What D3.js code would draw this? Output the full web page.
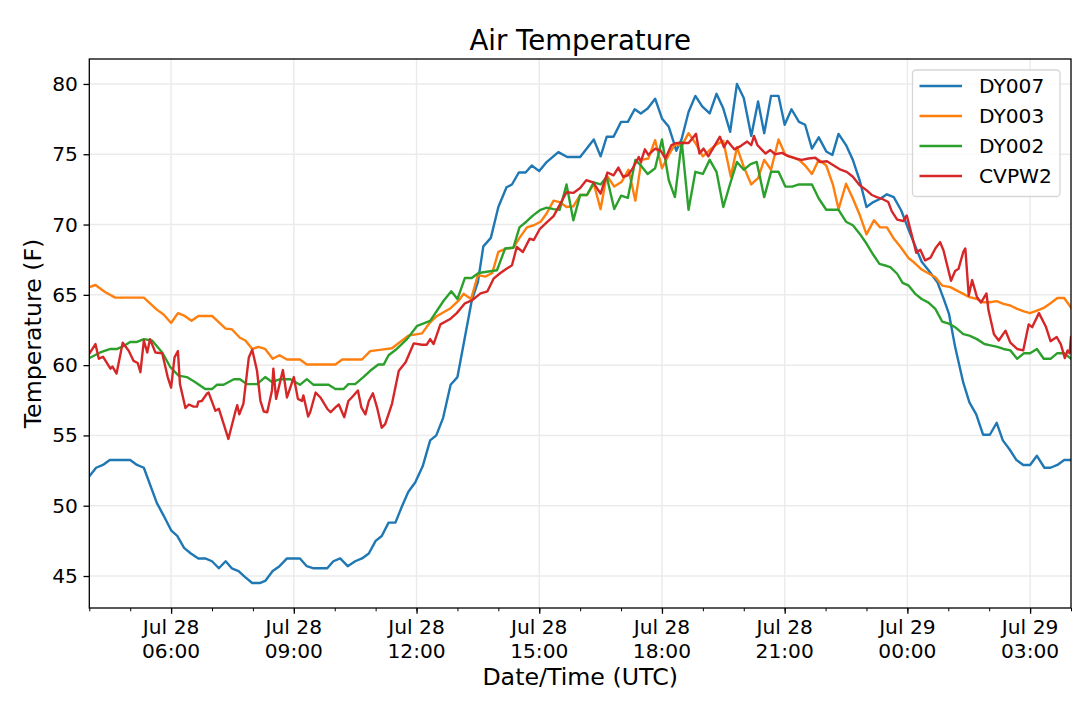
<!DOCTYPE html>
<html>
<head>
<meta charset="utf-8">
<script src="https://cdn.jsdelivr.net/npm/d3@7"></script>
<style>
  html, body { margin: 0; background: #fff; }
  svg { display: block; font-family: "DejaVu Sans", sans-serif; }
</style>
</head>
<body>
<div id="chart"></div>
<script>
// ── Data: [minutes since Jul 28 04:00 UTC, temperature °F] ─────────────────
const dy007 = [[0,52.1],[10,52.7],[20,52.9],[30,53.25],[60,53.25],[70,52.9],[80,52.7],[99,50.2],[109,49.3],[120,48.25],[129,47.85],[139,47.0],[149,46.6],[160,46.25],[170,46.25],[180,46.05],[190,45.55],[200,46.05],[209,45.55],[219,45.35],[229,44.9],[239,44.5],[250,44.5],[258,44.65],[269,45.35],[279,45.7],[290,46.25],[309,46.25],[319,45.7],[329,45.55],[349,45.55],[358,46.05],[368,46.25],[379,45.7],[390,46.05],[400,46.25],[410,46.6],[420,47.5],[429,47.85],[439,48.8],[449,48.8],[459,50.0],[468,51.0],[478,51.65],[489,52.8],[500,54.65],[509,55.0],[519,56.25],[530,58.6],[540,59.15],[551,62.0],[561,64.6],[570,65.9],[578,68.45],[589,69.05],[600,71.25],[612,72.65],[620,72.85],[630,73.7],[640,73.7],[649,74.2],[660,73.8],[670,74.4],[688,75.15],[701,74.8],[720,74.8],[740,76.05],[750,74.85],[759,76.25],[769,76.25],[780,77.3],[790,77.3],[800,78.2],[809,77.9],[819,78.25],[830,78.95],[840,77.55],[850,76.95],[857,75.9],[861,75.25],[869,76.1],[879,78.0],[889,79.15],[899,78.4],[910,77.9],[920,79.3],[930,78.25],[940,76.6],[950,80.0],[960,79.0],[971,76.3],[981,78.75],[990,76.5],[1000,79.15],[1011,79.15],[1020,77.1],[1030,78.2],[1041,77.3],[1050,77.1],[1060,75.4],[1070,76.2],[1081,75.2],[1090,74.95],[1099,76.45],[1110,75.65],[1120,74.6],[1130,73.15],[1140,71.25],[1150,71.6],[1159,71.8],[1170,72.15],[1180,71.95],[1191,71.0],[1202,69.6],[1212,68.4],[1221,67.35],[1231,66.75],[1244,65.9],[1253,64.75],[1261,63.65],[1270,61.3],[1282,58.75],[1291,57.35],[1301,56.5],[1311,55.05],[1321,55.05],[1331,55.9],[1340,54.65],[1350,54.0],[1360,53.25],[1370,52.9],[1380,52.9],[1390,53.55],[1401,52.7],[1410,52.7],[1420,52.9],[1430,53.25],[1440,53.25]];

const dy003 = [[0,65.55],[9,65.7],[23,65.2],[38,64.8],[80,64.8],[99,63.95],[109,63.6],[120,63.0],[130,63.7],[140,63.5],[150,63.15],[160,63.5],[180,63.5],[200,62.6],[209,62.55],[221,61.95],[229,61.75],[239,61.15],[248,61.3],[258,61.15],[269,60.45],[279,60.7],[290,60.4],[309,60.4],[319,60.05],[361,60.05],[371,60.4],[400,60.4],[412,61.0],[429,61.1],[444,61.2],[468,62.1],[488,62.26],[500,63.05],[510,63.5],[530,64.05],[542,64.6],[549,65.07],[560,64.7],[570,66.4],[581,66.3],[591,66.55],[600,68.05],[612,68.3],[622,68.35],[631,69.05],[642,69.8],[652,69.95],[662,70.2],[671,70.8],[681,71.7],[690,71.6],[700,71.25],[710,71.3],[720,72.1],[730,72.1],[740,72.9],[750,71.1],[759,73.5],[770,72.7],[781,73.05],[791,73.9],[801,71.7],[810,74.6],[820,74.7],[830,76.0],[840,74.0],[850,74.95],[859,75.7],[869,75.6],[879,76.5],[889,75.8],[900,74.85],[910,75.3],[920,75.7],[930,75.95],[941,73.4],[950,75.5],[960,74.1],[971,72.85],[981,73.3],[990,74.6],[1000,73.9],[1011,76.05],[1021,74.95],[1031,74.8],[1041,74.6],[1050,74.2],[1060,73.6],[1070,74.6],[1081,74.2],[1091,72.8],[1099,71.1],[1110,72.9],[1120,71.85],[1130,70.7],[1140,69.3],[1151,70.3],[1160,69.8],[1170,69.8],[1180,69.0],[1190,68.4],[1202,67.6],[1210,67.3],[1221,66.8],[1241,66.25],[1251,65.66],[1263,65.55],[1282,65.07],[1291,64.84],[1301,64.72],[1311,64.47],[1321,64.47],[1331,64.55],[1341,64.36],[1351,64.24],[1361,64.0],[1371,63.83],[1380,63.7],[1390,63.88],[1400,64.07],[1410,64.4],[1420,64.78],[1430,64.78],[1440,64.1]];

const dy002 = [[0,60.5],[16,60.9],[31,61.15],[41,61.15],[50,61.35],[60,61.65],[70,61.65],[80,61.85],[92,61.75],[107,60.9],[119,59.85],[131,59.25],[143,59.15],[155,58.8],[170,58.3],[180,58.3],[187,58.6],[197,58.6],[212,59.0],[221,59.0],[231,58.65],[246,58.65],[258,59.15],[268,58.8],[280,59.0],[295,59.0],[309,58.6],[319,59.0],[329,58.6],[351,58.6],[361,58.3],[373,58.3],[380,58.65],[390,58.65],[402,59.15],[412,59.6],[424,60.05],[432,60.05],[439,60.7],[451,61.15],[466,61.85],[481,62.8],[500,63.15],[520,64.6],[531,65.25],[540,64.7],[551,66.2],[561,66.2],[571,66.55],[598,66.75],[610,68.3],[622,68.35],[631,69.8],[641,70.2],[651,70.65],[662,71.05],[671,71.2],[681,71.1],[690,71.05],[700,72.85],[710,70.3],[720,72.1],[730,72.1],[740,73.0],[750,72.85],[759,73.4],[770,71.1],[780,72.05],[790,71.9],[801,74.6],[809,74.2],[819,73.6],[830,74.0],[840,76.05],[850,73.15],[859,71.95],[869,75.9],[879,71.05],[889,73.75],[900,73.6],[910,74.6],[920,73.75],[930,71.25],[940,72.9],[950,74.45],[960,73.9],[970,74.3],[979,74.45],[990,71.95],[1000,73.75],[1011,73.75],[1021,72.7],[1031,72.7],[1041,72.85],[1060,72.85],[1070,71.85],[1081,71.05],[1099,71.05],[1110,70.2],[1120,69.95],[1130,69.35],[1140,68.65],[1150,67.85],[1159,67.2],[1170,67.05],[1175,66.97],[1185,66.5],[1193,65.85],[1202,65.65],[1212,65.05],[1221,64.7],[1231,64.45],[1241,64.0],[1251,63.1],[1261,62.95],[1270,62.7],[1282,62.2],[1291,62.1],[1302,61.85],[1313,61.5],[1322,61.4],[1332,61.3],[1341,61.15],[1351,61.05],[1361,60.45],[1371,60.85],[1380,60.85],[1390,61.15],[1400,60.45],[1410,60.45],[1420,60.85],[1430,60.85],[1440,60.45]];

const cvpw2 = [[0,60.8],[9,61.5],[14,60.45],[20,60.6],[31,59.75],[34,59.9],[40,59.4],[49,61.6],[58,61.0],[65,60.3],[71,60.15],[75,59.5],[80,61.75],[85,60.9],[89,61.85],[97,60.9],[107,60.85],[115,59.15],[120,58.4],[125,60.55],[130,61.0],[133,58.65],[141,56.95],[146,57.2],[153,57.05],[158,57.05],[160,57.4],[165,57.45],[173,58.0],[175,58.05],[185,56.75],[190,56.9],[204,54.75],[214,56.65],[217,57.15],[220,56.5],[226,57.25],[234,60.55],[239,61.1],[246,59.6],[251,57.45],[256,56.7],[261,56.65],[268,58.2],[270,59.75],[274,57.6],[284,59.65],[290,57.7],[300,59.15],[306,57.6],[312,57.45],[314,57.85],[321,56.35],[324,56.65],[332,58.05],[339,57.7],[349,56.9],[354,56.65],[361,57.0],[366,57.2],[374,56.3],[380,57.45],[385,57.7],[394,58.2],[399,57.0],[405,56.5],[410,57.45],[416,58.0],[422,57.0],[429,55.55],[434,55.8],[444,57.25],[454,59.6],[464,60.2],[476,61.55],[488,61.45],[495,61.45],[500,61.85],[505,61.5],[515,62.9],[530,63.3],[539,63.7],[551,64.4],[561,64.6],[574,65.1],[584,65.25],[593,66.15],[603,66.55],[612,66.85],[620,67.1],[627,68.4],[636,68.05],[646,69.0],[652,68.9],[661,69.7],[671,70.15],[681,70.6],[690,71.4],[700,72.3],[710,72.25],[720,72.6],[729,73.15],[739,73.0],[750,72.2],[760,73.7],[769,73.5],[776,74.05],[783,73.4],[790,73.5],[797,74.0],[806,74.8],[809,74.45],[815,75.35],[820,74.95],[830,75.4],[838,75.25],[845,74.7],[854,75.65],[861,75.8],[870,75.8],[879,75.8],[890,76.45],[895,75.05],[901,75.4],[908,74.85],[916,75.5],[925,76.25],[931,75.5],[936,75.95],[946,75.35],[956,75.6],[965,75.9],[971,75.65],[975,76.3],[980,75.65],[992,75.05],[999,75.3],[1006,75.0],[1016,75.1],[1026,74.85],[1036,74.7],[1045,74.6],[1055,74.7],[1065,74.75],[1072,74.45],[1082,74.5],[1092,74.2],[1102,73.9],[1111,73.75],[1120,73.4],[1130,72.8],[1140,72.45],[1148,72.1],[1155,71.95],[1164,71.8],[1172,71.6],[1177,70.95],[1185,70.35],[1194,70.25],[1199,70.65],[1206,69.35],[1213,68.0],[1219,68.2],[1226,67.45],[1234,67.65],[1241,68.3],[1248,68.75],[1253,68.15],[1264,66.0],[1270,66.7],[1275,66.85],[1282,68.05],[1285,68.3],[1290,64.95],[1295,66.05],[1302,64.85],[1308,64.45],[1316,65.1],[1319,63.9],[1327,62.2],[1334,61.75],[1344,62.45],[1351,61.6],[1361,61.15],[1370,61.05],[1378,62.9],[1383,62.7],[1393,63.7],[1403,62.75],[1410,61.7],[1419,62.0],[1425,61.5],[1431,60.5],[1435,61.05],[1438,60.85],[1440,62.0]];

const seriesNames = ['DY007', 'DY003', 'DY002', 'CVPW2'];
const seriesColors = ['#1f77b4', '#ff7f0e', '#2ca02c', '#d62728'];
const seriesData = [dy007, dy003, dy002, cvpw2];
const yTicks = [45, 50, 55, 60, 65, 70, 75, 80];

// ── Layout ──────────────────────────────────────────────────────────────────
const W = 1080, H = 709;
const PLOT = { left: 89.3, right: 1071, top: 59, bottom: 608 };
const START = Date.UTC(2018, 6, 28, 4, 0);
const END = Date.UTC(2018, 6, 29, 4, 0);
const TICK_FONT = 20.2, LABEL_FONT = 23.7, TITLE_FONT = 27.6;
const GRID = '#ebebeb';

const toDate = m => new Date(START + m * 60000);

const svg = d3.select('#chart').append('svg').attr('width', W).attr('height', H);

const x = d3.scaleUtc().domain([START, END]).range([PLOT.left, PLOT.right]);

// y-limieten zoals matplotlib: 5% marge rond de data
const allTemps = seriesData.flat().map(d => d[1]);
const [tMin, tMax] = d3.extent(allTemps);
const pad = (tMax - tMin) * 0.05;
const y = d3.scaleLinear().domain([tMin - pad, tMax + pad]).range([PLOT.bottom, PLOT.top]);

const majorTicks = d3.utcHour.every(3).range(new Date(START + 1), new Date(END));
const minorTicks = d3.utcHour.every(1).range(new Date(START), new Date(END + 1));

// ── Grid ────────────────────────────────────────────────────────────────────
const grid = svg.append('g').attr('stroke', GRID).attr('stroke-width', 1.5);
grid.selectAll('.gx').data(majorTicks).join('line')
  .attr('x1', d => x(d)).attr('x2', d => x(d))
  .attr('y1', PLOT.top).attr('y2', PLOT.bottom);
grid.selectAll('.gy').data(yTicks).join('line')
  .attr('x1', PLOT.left).attr('x2', PLOT.right)
  .attr('y1', d => y(d)).attr('y2', d => y(d));

// ── Lines ───────────────────────────────────────────────────────────────────
const line = d3.line().x(d => x(toDate(d[0]))).y(d => y(d[1]));
svg.append('defs').append('clipPath').attr('id', 'plotClip')
  .append('rect').attr('x', PLOT.left).attr('y', PLOT.top)
  .attr('width', PLOT.right - PLOT.left).attr('height', PLOT.bottom - PLOT.top);
const lines = svg.append('g').attr('clip-path', 'url(#plotClip)');
seriesData.forEach((data, i) => {
  lines.append('path').datum(data)
    .attr('d', line)
    .attr('fill', 'none')
    .attr('stroke', seriesColors[i])
    .attr('stroke-width', 2.4)
    .attr('stroke-linejoin', 'round')
    .attr('stroke-linecap', 'square');
});

// ── Axes ────────────────────────────────────────────────────────────────────
const yAxis = d3.axisLeft(y).tickValues(yTicks).tickSize(5.8).tickPadding(5.6);
const yg = svg.append('g').attr('transform', `translate(${PLOT.left},0)`).call(yAxis);
yg.select('.domain').remove();
yg.selectAll('line').attr('stroke', '#000').attr('stroke-width', 1.3);
yg.selectAll('text').attr('font-size', TICK_FONT).attr('font-family', '"DejaVu Sans"').attr('fill', '#000');

const xMinor = d3.axisBottom(x).tickValues(minorTicks).tickSize(3.3).tickFormat('');
const xmg = svg.append('g').attr('transform', `translate(0,${PLOT.bottom})`).call(xMinor);
xmg.select('.domain').remove();
xmg.selectAll('line').attr('stroke', '#000').attr('stroke-width', 1);

const xAxis = d3.axisBottom(x).tickValues(majorTicks).tickSize(5.8).tickFormat('');
const xg = svg.append('g').attr('transform', `translate(0,${PLOT.bottom})`).call(xAxis);
xg.select('.domain').remove();
xg.selectAll('line').attr('stroke', '#000').attr('stroke-width', 1.3);

// tweeregelige tijdlabels: "Jul 28" / "06:00"
const fmtDay = d3.utcFormat('%b %d'), fmtHour = d3.utcFormat('%H:%M');
const xLabels = svg.append('g').attr('font-size', TICK_FONT).attr('text-anchor', 'middle').attr('fill', '#000');
majorTicks.forEach(t => {
  const txt = xLabels.append('text').attr('x', x(t)).attr('y', 633.5);
  txt.append('tspan').attr('x', x(t)).text(fmtDay(t));
  txt.append('tspan').attr('x', x(t)).attr('dy', 24).text(fmtHour(t));
});

// frame
svg.append('rect')
  .attr('x', PLOT.left).attr('y', PLOT.top)
  .attr('width', PLOT.right - PLOT.left).attr('height', PLOT.bottom - PLOT.top)
  .attr('fill', 'none').attr('stroke', '#000').attr('stroke-width', 1.3);

// ── Titles ──────────────────────────────────────────────────────────────────
const cx = (PLOT.left + PLOT.right) / 2;
svg.append('text').attr('x', cx).attr('y', 49.5).attr('text-anchor', 'middle')
  .attr('font-size', TITLE_FONT).text('Air Temperature');
svg.append('text').attr('x', cx).attr('y', 684.5).attr('text-anchor', 'middle')
  .attr('font-size', LABEL_FONT).text('Date/Time (UTC)');
svg.append('text')
  .attr('transform', `translate(41,${(PLOT.top + PLOT.bottom) / 2}) rotate(-90)`)
  .attr('text-anchor', 'middle').attr('font-size', LABEL_FONT).text('Temperature (F)');

// ── Legend ──────────────────────────────────────────────────────────────────
const legend = svg.append('g').attr('transform', 'translate(912.5,70)');
legend.append('rect').attr('width', 147.5).attr('height', 126.5).attr('rx', 3.5)
  .attr('fill', '#fff').attr('fill-opacity', 0.8)
  .attr('stroke', '#d6d6d6').attr('stroke-width', 1.3);
seriesNames.forEach((name, i) => {
  const rowY = 16 + i * 30;
  legend.append('line').attr('x1', 7).attr('x2', 49.5).attr('y1', rowY).attr('y2', rowY)
    .attr('stroke', seriesColors[i]).attr('stroke-width', 2.4);
  legend.append('text').attr('x', 66.5).attr('y', rowY).attr('dy', '0.36em')
    .attr('font-size', TICK_FONT).text(name);
});
</script>
</body>
</html>
